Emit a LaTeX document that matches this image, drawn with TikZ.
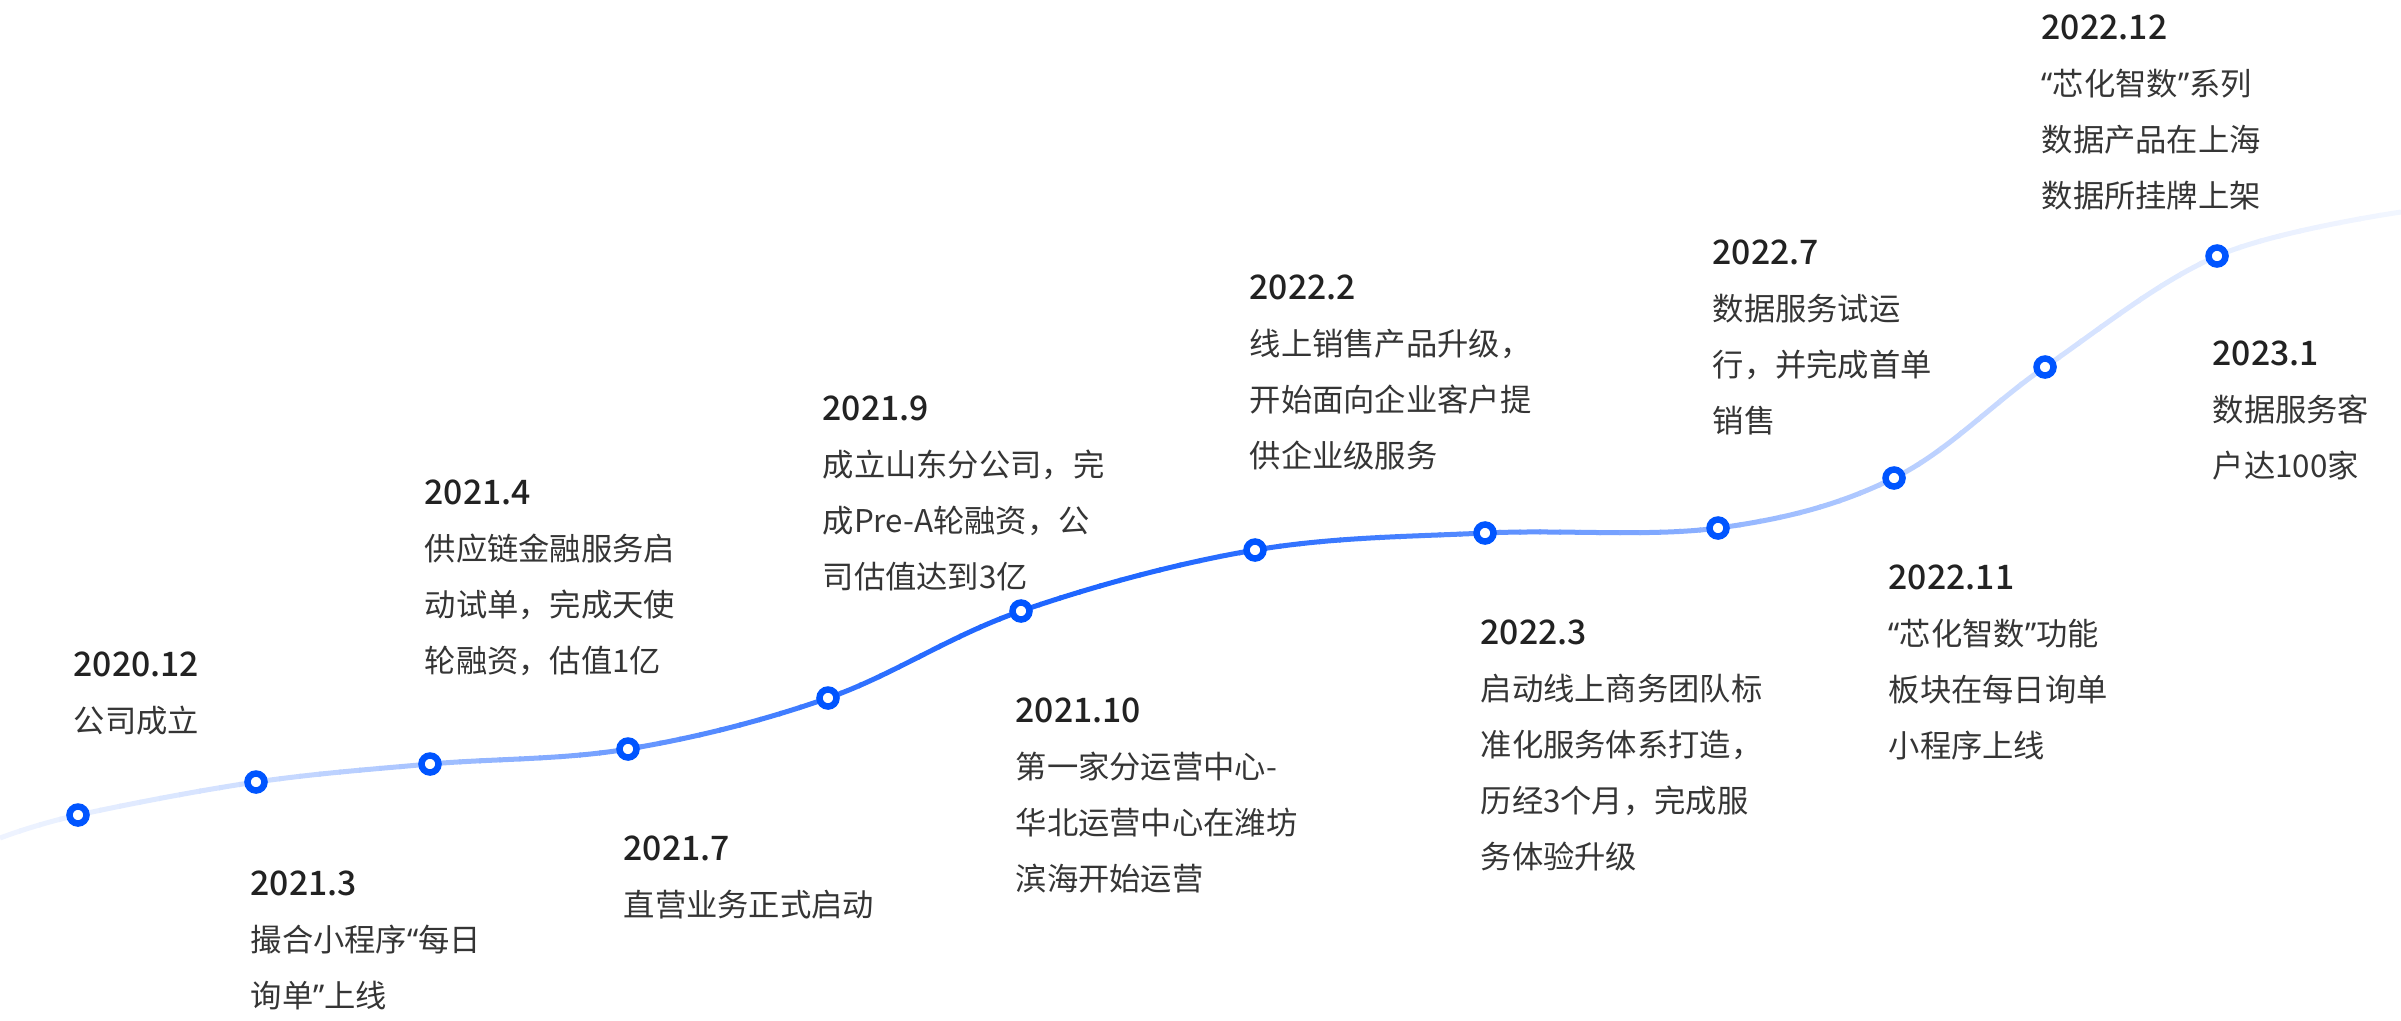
\documentclass[tikz,border=0pt]{standalone}
\usepackage{fontspec}
\setmainfont{Noto Sans CJK SC}
\newfontfamily\datefont{Noto Sans CJK SC Medium}
\newfontfamily\quotefont{Noto Sans}
\usetikzlibrary{calc}

\definecolor{lineblue}{HTML}{1F66FF}
\definecolor{dotblue}{HTML}{0055FF}
\definecolor{datecol}{HTML}{222222}
\definecolor{textcol}{HTML}{353535}

\tikzset{
  tldot/.style={circle, draw=dotblue, fill=white, line width=0.065cm,
    minimum size=0.17cm, inner sep=0pt},
  eventtext/.style={anchor=north west, align=left, inner sep=0pt,
    text=textcol, font=\fontsize{8.9}{15.9}\selectfont},
}
\newcommand{\datum}[1]{{\color{datecol}\datefont\fontsize{9.6}{15.9}\selectfont #1}}
\newcommand{\qopen}{{\quotefont “}}
\newcommand{\qclose}{{\quotefont ”}}

\begin{document}
\begin{tikzpicture}[x=0.01cm, y=-0.01cm]
  \useasboundingbox (0,0) rectangle (2401,1020);

  % points of the timeline
  \coordinate (p0) at (0,838);
  \coordinate (p1) at (78,815);
  \coordinate (p2) at (256,782);
  \coordinate (p3) at (430,764);
  \coordinate (p4) at (628,749);
  \coordinate (p5) at (828,698);
  \coordinate (p6) at (1021,611);
  \coordinate (p7) at (1255,550);
  \coordinate (p8) at (1485,533);
  \coordinate (p9) at (1718,528);
  \coordinate (p10) at (1894,478);
  \coordinate (p11) at (2045,367);
  \coordinate (p12) at (2217,256);
  \coordinate (p13) at (2401,212);

  % curve, coloured strip by strip
  \foreach \i in {0,...,119} {
    \pgfmathsetmacro\xm{\i*20+10}
    \pgfmathsetmacro\pct{100*exp(-((\xm-1050)/((\xm<1050)?650:800))^2)}
    \begin{scope}
      \clip (\i*20-1,0) rectangle (\i*20+21,1020);
      \draw[lineblue!\pct!white, line width=0.05cm]
        plot[smooth, tension=0.6] coordinates {(p0) (p1) (p2) (p3) (p4) (p5)
          (p6) (p7) (p8) (p9) (p10) (p11) (p12) (p13)};
    \end{scope}
  }

  \foreach \k in {1,...,12}
    \node[tldot] (d\k) at (p\k) {};

  % Texts
  \node[eventtext] (t1) at (73,651) {\datum{2020.12}\\公司成立};
  \node[eventtext] (t2) at (250,870) {\datum{2021.3}\\撮合小程序\qopen 每日\\询单\qclose 上线};
  \node[eventtext] (t3) at (424,479) {\datum{2021.4}\\供应链金融服务启\\动试单，完成天使\\轮融资，估值1亿};
  \node[eventtext] (t4) at (623,835) {\datum{2021.7}\\直营业务正式启动};
  \node[eventtext] (t5) at (822,395) {\datum{2021.9}\\成立山东分公司，完\\成Pre-A轮融资，公\\司估值达到3亿};
  \node[eventtext] (t6) at (1015,697) {\datum{2021.10}\\第一家分运营中心-\\华北运营中心在潍坊\\滨海开始运营};
  \node[eventtext] (t7) at (1249,274) {\datum{2022.2}\\线上销售产品升级，\\开始面向企业客户提\\供企业级服务};
  \node[eventtext] (t8) at (1480,619) {\datum{2022.3}\\启动线上商务团队标\\准化服务体系打造，\\历经3个月，完成服\\务体验升级};
  \node[eventtext] (t9) at (1712,239) {\datum{2022.7}\\数据服务试运\\行，并完成首单\\销售};
  \node[eventtext] (t10) at (1888,564) {\datum{2022.11}\\\qopen 芯化智数\qclose 功能\\板块在每日询单\\小程序上线};
  \node[eventtext] (t11) at (2041,14) {\datum{2022.12}\\\qopen 芯化智数\qclose 系列\\数据产品在上海\\数据所挂牌上架};
  \node[eventtext] (t12) at (2212,340) {\datum{2023.1}\\数据服务客\\户达100家};
\end{tikzpicture}
\end{document}
